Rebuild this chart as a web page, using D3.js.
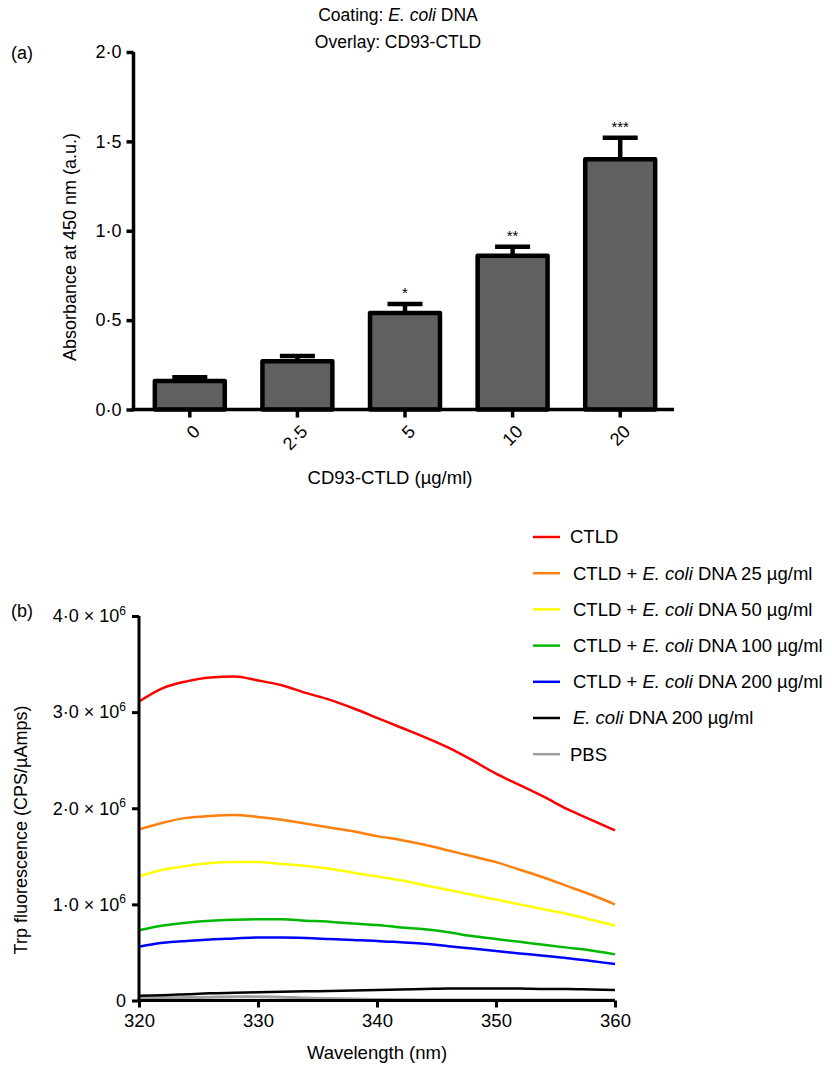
<!DOCTYPE html>
<html>
<head>
<meta charset="utf-8">
<script src="https://cdn.jsdelivr.net/npm/d3@7"></script>
<style>
body { margin: 0; background: #fff; }
svg { display: block; font-family: "Liberation Sans", Arial, Helvetica, sans-serif; }
</style>
</head>
<body>
<svg id="fig" width="832" height="1066"></svg>
<script>
// panel (a) data
const doses = ['0', '2·5', '5', '10', '20'];
const absorbance = [0.16, 0.27, 0.54, 0.86, 1.40];
const absErr = [0.02, 0.03, 0.05, 0.05, 0.12];
const stars = ['', '', '*', '**', '***'];
const absTicks = [0, 0.5, 1, 1.5, 2];

// panel (b) data, intensities in units of 10^6 CPS/uAmps
const wavelength = [320, 322, 324, 326, 328, 330, 332, 334, 336, 338, 340, 342, 344, 346, 348, 350, 352, 354, 356, 358, 360];
const ctld      = [3.11, 3.25, 3.32, 3.36, 3.37, 3.33, 3.28, 3.20, 3.13, 3.04, 2.94, 2.84, 2.74, 2.63, 2.50, 2.36, 2.24, 2.12, 1.99, 1.88, 1.77];
const dna25     = [1.78, 1.85, 1.90, 1.92, 1.93, 1.91, 1.88, 1.84, 1.80, 1.76, 1.71, 1.67, 1.62, 1.56, 1.50, 1.44, 1.36, 1.28, 1.19, 1.10, 1.00];
const dna50     = [1.29, 1.36, 1.40, 1.43, 1.44, 1.44, 1.42, 1.40, 1.37, 1.33, 1.29, 1.25, 1.20, 1.15, 1.10, 1.05, 1.00, 0.95, 0.90, 0.84, 0.78];
const dna100    = [0.73, 0.78, 0.81, 0.83, 0.84, 0.845, 0.845, 0.83, 0.82, 0.80, 0.785, 0.76, 0.74, 0.71, 0.67, 0.64, 0.61, 0.58, 0.55, 0.52, 0.48];
const dna200    = [0.56, 0.60, 0.62, 0.635, 0.645, 0.655, 0.655, 0.65, 0.64, 0.63, 0.62, 0.605, 0.59, 0.565, 0.54, 0.515, 0.49, 0.465, 0.44, 0.41, 0.38];
const dnaOnly   = [0.05, 0.055, 0.065, 0.075, 0.08, 0.085, 0.09, 0.095, 0.10, 0.105, 0.11, 0.115, 0.12, 0.125, 0.125, 0.125, 0.125, 0.12, 0.12, 0.115, 0.11];
const pbs       = [0.02, 0.025, 0.03, 0.035, 0.04, 0.04, 0.035, 0.025, 0.02, 0.015, 0.01, 0.008, 0.006, 0.005, 0.005, 0.005, 0.005, 0.005, 0.005, 0.005, 0.005];
const seriesNames = ['CTLD', 'CTLD + E. coli DNA 25 µg/ml', 'CTLD + E. coli DNA 50 µg/ml',
  'CTLD + E. coli DNA 100 µg/ml', 'CTLD + E. coli DNA 200 µg/ml', 'E. coli DNA 200 µg/ml', 'PBS'];
const seriesValues = [ctld, dna25, dna50, dna100, dna200, dnaOnly, pbs];
const seriesColors = ['#ff0000', '#ff7f0f', '#ffff00', '#00b800', '#0000ff', '#000000', '#a0a0a0'];
const fluoTicks = [0, 1, 2, 3, 4];
const waveTicks = [320, 330, 340, 350, 360];

const svg = d3.select('#fig');
const dot = s => s.replace('.', '·');

// put "E. coli" in italics inside a text node
function richText(sel, str) {
  const parts = str.split('E. coli');
  parts.forEach((p, i) => {
    if (i > 0) sel.append('tspan').attr('font-style', 'italic').text('E. coli');
    if (p) sel.append('tspan').text(p);
  });
}

//---------------- panel (a) ----------------
const ga = svg.append('g');
const yA = d3.scaleLinear().domain([0, 2]).range([409.5, 52]);
const xA = d3.scaleBand().domain(doses).range([136, 674]).paddingInner(0.35).paddingOuter(0.175);

ga.append('text').attr('x', 11).attr('y', 59).attr('font-size', 18).text('(a)');

const t1 = ga.append('text').attr('x', 398).attr('y', 21).attr('text-anchor', 'middle').attr('font-size', 17.5);
richText(t1, 'Coating: E. coli DNA');
ga.append('text').attr('x', 398).attr('y', 48).attr('text-anchor', 'middle').attr('font-size', 17.5)
  .text('Overlay: CD93-CTLD');

// error bars first so the bar outline sits over them
const eb = ga.append('g').attr('stroke', '#000').attr('stroke-width', 4.5);
doses.forEach((d, i) => {
  const cx = xA(d) + xA.bandwidth() / 2;
  eb.append('line').attr('x1', cx).attr('x2', cx)
    .attr('y1', yA(absorbance[i])).attr('y2', yA(absorbance[i] + absErr[i]));
  eb.append('line').attr('x1', cx - 17.5).attr('x2', cx + 17.5)
    .attr('y1', yA(absorbance[i] + absErr[i])).attr('y2', yA(absorbance[i] + absErr[i]));
  if (stars[i]) {
    ga.append('text').attr('x', cx).attr('y', yA(absorbance[i] + absErr[i]) - 6)
      .attr('text-anchor', 'middle').attr('font-size', 15).text(stars[i]);
  }
});

ga.selectAll('rect.bar').data(absorbance).enter().append('rect')
  .attr('class', 'bar')
  .attr('x', (d, i) => xA(doses[i]))
  .attr('y', d => yA(d))
  .attr('width', xA.bandwidth())
  .attr('height', d => yA(0) - yA(d))
  .attr('fill', '#606060')
  .attr('stroke', '#000')
  .attr('stroke-width', 4.5)
  .attr('stroke-linejoin', 'round');

const axA = ga.append('g').attr('transform', 'translate(133.5,0)')
  .call(d3.axisLeft(yA).tickValues(absTicks).tickSize(7).tickSizeOuter(0).tickPadding(5)
    .tickFormat(v => dot(d3.format('.1f')(v))));
axA.attr('font-family', null).attr('font-size', 18);
axA.select('.domain').attr('stroke-width', 3.5).attr('d', 'M0,' + (yA(0) + 1.75) + 'V' + yA(2));
axA.selectAll('.tick line').attr('stroke-width', 3.5);
axA.selectAll('.tick text').attr('font-size', 18).attr('fill', '#000');

const axAx = ga.append('g').attr('transform', 'translate(0,' + yA(0) + ')')
  .call(d3.axisBottom(xA).tickSize(8).tickSizeOuter(0));
axAx.attr('font-family', null).attr('font-size', 18);
axAx.select('.domain').attr('stroke-width', 3.5).attr('d', 'M132,0H674');
axAx.selectAll('.tick line').attr('stroke-width', 3.5);
axAx.selectAll('.tick text').attr('font-size', 18).attr('fill', '#000')
  .attr('text-anchor', 'end').attr('dy', null).attr('y', null)
  .attr('transform', 'translate(7,19) rotate(-45)')
  .attr('dominant-baseline', 'central');

ga.append('text').attr('transform', 'translate(76,247) rotate(-90)').attr('text-anchor', 'middle')
  .attr('font-size', 18).text('Absorbance at 450 nm (a.u.)');
ga.append('text').attr('x', 390).attr('y', 484).attr('text-anchor', 'middle')
  .attr('font-size', 18.5).text('CD93-CTLD (µg/ml)');

//---------------- panel (b) ----------------
const gb = svg.append('g');
const xB = d3.scaleLinear().domain([320, 360]).range([139, 615]);
const yB = d3.scaleLinear().domain([0, 4]).range([1000.5, 616]);

gb.append('text').attr('x', 11).attr('y', 617).attr('font-size', 18).text('(b)');

const line = d3.line().x((d, i) => xB(wavelength[i])).y(d => yB(d)).curve(d3.curveMonotoneX);
// draw the low lines first
seriesValues.slice().reverse().forEach((vals, k) => {
  const i = seriesValues.length - 1 - k;
  gb.append('path').datum(vals).attr('d', line).attr('fill', 'none')
    .attr('stroke', seriesColors[i]).attr('stroke-width', i === 6 ? 3 : 2.5);
});

const axB = gb.append('g').attr('transform', 'translate(139,0)')
  .call(d3.axisLeft(yB).tickValues(fluoTicks).tickSize(7).tickSizeOuter(0).tickPadding(6));
axB.attr('font-family', null).attr('font-size', 18);
axB.select('.domain').attr('stroke-width', 3).attr('d', 'M0,' + (yB(0) + 1.5) + 'V' + yB(4));
axB.selectAll('.tick line').attr('stroke-width', 3);
axB.selectAll('.tick text').attr('font-size', 18).attr('fill', '#000').each(function (v) {
  const t = d3.select(this);
  t.text(null);
  if (v === 0) { t.text('0'); return; }
  t.append('tspan').text(dot(d3.format('.1f')(v)) + ' × 10');
  t.append('tspan').attr('font-size', 12).attr('dy', '-0.6em').text('6');
});

const axBx = gb.append('g').attr('transform', 'translate(0,' + yB(0) + ')')
  .call(d3.axisBottom(xB).tickValues(waveTicks).tickSize(7).tickSizeOuter(0).tickPadding(6));
axBx.attr('font-family', null).attr('font-size', 18);
axBx.select('.domain').attr('stroke-width', 3).attr('d', 'M137.5,0H615');
axBx.selectAll('.tick line').attr('stroke-width', 3);
axBx.selectAll('.tick text').attr('font-size', 18.5).attr('fill', '#000');

gb.append('text').attr('transform', 'translate(27,830) rotate(-90)').attr('text-anchor', 'middle')
  .attr('font-size', 18).text('Trp fluorescence (CPS/µAmps)');
gb.append('text').attr('x', 377).attr('y', 1059).attr('text-anchor', 'middle')
  .attr('font-size', 18.5).text('Wavelength (nm)');

// legend
const lg = gb.append('g').attr('transform', 'translate(533,537)');
seriesNames.forEach((name, i) => {
  const row = lg.append('g').attr('transform', 'translate(0,' + (i * 36.2) + ')');
  row.append('line').attr('x1', 0).attr('x2', 27).attr('stroke', seriesColors[i]).attr('stroke-width', 2.5);
  const t = row.append('text').attr('x', i === 0 || i === 6 ? 37 : 40).attr('dy', '0.35em').attr('font-size', 18.5);
  richText(t, name);
});
</script>
</body>
</html>
